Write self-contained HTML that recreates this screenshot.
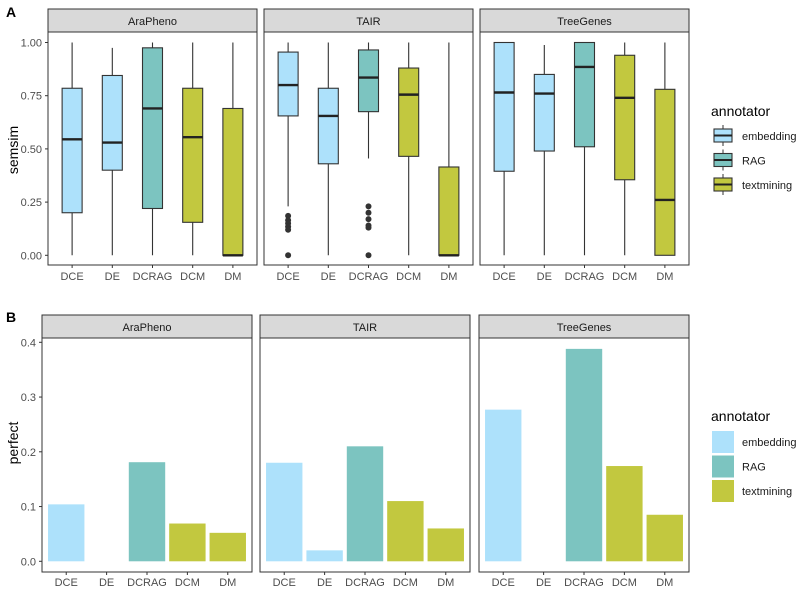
<!DOCTYPE html>
<html><head><meta charset="utf-8"><style>
body{margin:0;background:#fff;}
svg{display:block;font-family:"Liberation Sans",Arial,sans-serif;}
</style></head><body>
<svg id="fig" width="800" height="589" viewBox="0 0 800 589"></svg>
<script>
const categories = ["DCE","DE","DCRAG","DCM","DM"];
const annotatorOf = ["embedding","embedding","RAG","textmining","textmining"];
const sources = ["AraPheno","TAIR","TreeGenes"];
// boxplot stats per source: [lowerWhisker, q1, median, q3, upperWhisker]
const boxAraPheno = [[0,0.20,0.545,0.785,1.0],[0,0.40,0.53,0.845,0.975],[0,0.22,0.69,0.975,1.0],[0,0.155,0.555,0.785,1.0],[0,0,0,0.69,1.0]];
const boxTAIR = [[0.23,0.655,0.80,0.955,1.0],[0,0.43,0.655,0.785,1.0],[0.455,0.675,0.835,0.965,1.0],[0,0.465,0.755,0.88,1.0],[0,0,0,0.415,1.0]];
const boxTreeGenes = [[0,0.395,0.765,1.0,1.0],[0,0.49,0.76,0.85,0.988],[0,0.51,0.885,1.0,1.0],[0,0.355,0.74,0.94,1.0],[0,0,0.26,0.78,1.0]];
const outliersTAIR_DCE = [0.185,0.165,0.15,0.135,0.12,0.0];
const outliersTAIR_DCRAG = [0.23,0.2,0.17,0.14,0.13,0.0];
const perfectAraPheno = [0.104,0,0.181,0.069,0.052];
const perfectTAIR = [0.18,0.02,0.21,0.11,0.06];
const perfectTreeGenes = [0.277,0,0.388,0.174,0.085];
const semsimTicks = ["0.00","0.25","0.50","0.75","1.00"];
const perfectTicks = ["0.0","0.1","0.2","0.3","0.4"];
const legendLabels = ["embedding","RAG","textmining"];

const fill = {embedding:"#ADE1FB",RAG:"#7CC4C0",textmining:"#C2C83F"};
const NS="http://www.w3.org/2000/svg";
const svg=document.getElementById('fig');
function mk(tag,attrs,parent,text){const e=document.createElementNS(NS,tag);for(const k in attrs)e.setAttribute(k,attrs[k]);if(text!==undefined)e.textContent=text;(parent||svg).appendChild(e);return e;}

// ---------- Panel A ----------
const topPanels=[48,264,480], pw=209;
const aTop=32,aBot=265;
const yA=v=>255.3-v*212.8;
const boxes=[boxAraPheno,boxTAIR,boxTreeGenes];
const xCat=(left,i)=>left+pw*((i+1)-0.4)/5.2;

let t=mk('text',{x:6,y:17,'font-size':14,'font-weight':'bold',fill:'#000'},svg,'A');

t=mk('text',{x:0,y:0,'font-size':14,fill:'#000','text-anchor':'middle',transform:'translate(18,150) rotate(-90)'},svg,'semsim');


semsimTicks.forEach(s=>{const v=parseFloat(s);const y=yA(v);
  let tx=mk('text',{x:42,y:y+4,'font-size':11,fill:'#4D4D4D','text-anchor':'end'},svg,s);
  
  mk('line',{x1:45,x2:48,y1:y,y2:y,stroke:'#333','stroke-width':1});
});

sources.forEach((src,p)=>{
  const L=topPanels[p];
  const g=mk('g',{});
  
  let s=mk('rect',{x:L,y:9,width:pw,height:23,fill:'#D9D9D9',stroke:'#333','stroke-width':1},g);
  
  let st=mk('text',{x:L+pw/2,y:25,'font-size':11,fill:'#1A1A1A','text-anchor':'middle'},g,src);
  
  mk('rect',{x:L,y:aTop,width:pw,height:aBot-aTop,fill:'#fff',stroke:'#333','stroke-width':1},g);
  boxes[p].forEach((b,i)=>{
    const cx=xCat(L,i), w=20;
    const bg=mk('g',{},g);
    
    mk('line',{x1:cx,x2:cx,y1:yA(b[0]),y2:yA(b[4]),stroke:'#333','stroke-width':1.1},bg);
    mk('rect',{x:cx-w/2,y:yA(b[3]),width:w,height:Math.max(yA(b[1])-yA(b[3]),0),fill:fill[annotatorOf[i]],stroke:'#333','stroke-width':1.1},bg);
    mk('line',{x1:cx-w/2,x2:cx+w/2,y1:yA(b[2]),y2:yA(b[2]),stroke:'#222','stroke-width':2.4},bg);
    mk('line',{x1:cx,x2:cx,y1:aBot,y2:aBot+3,stroke:'#333'},g);
    let tl=mk('text',{x:cx,y:aBot+15,'font-size':11,fill:'#4D4D4D','text-anchor':'middle'},g,categories[i]);
    
  });
  if(src==='TAIR'){
    [[0,outliersTAIR_DCE],[2,outliersTAIR_DCRAG]].forEach(([i,arr])=>arr.forEach(v=>{
      const c=mk('circle',{cx:xCat(L,i),cy:yA(v),r:3,fill:'#333'},g);
      
    }));
  }
});

// legend A
t=mk('text',{x:711,y:116,'font-size':14,fill:'#000'},svg,'annotator');

legendLabels.forEach((lab,k)=>{
  const y0=129+k*24.5;
  const g=mk('g',{});
  
  mk('line',{x1:723,x2:723,y1:y0-4,y2:y0+17,stroke:'#333'},g);
  mk('rect',{x:714,y:y0,width:18,height:13,fill:fill[lab],stroke:'#333','stroke-width':1.1},g);
  mk('line',{x1:714,x2:732,y1:y0+6.5,y2:y0+6.5,stroke:'#222','stroke-width':2},g);
  mk('text',{x:742,y:y0+11,'font-size':11,fill:'#1A1A1A'},g,lab);
});

// ---------- Panel B ----------
const botPanels=[42,260,479], pw2=210;
const bTop=338,bBot=572;
const yB=v=>561.3-v*547.5;
const perf=[perfectAraPheno,perfectTAIR,perfectTreeGenes];
const xCatB=(left,i)=>left+pw2*((i+1)-0.4)/5.2;

t=mk('text',{x:6,y:322,'font-size':14,'font-weight':'bold',fill:'#000'},svg,'B');

t=mk('text',{x:0,y:0,'font-size':14,fill:'#000','text-anchor':'middle',transform:'translate(18,443) rotate(-90)'},svg,'perfect');

perfectTicks.forEach(s=>{const v=parseFloat(s);const y=yB(v);
  let tx=mk('text',{x:36,y:y+4,'font-size':11,fill:'#4D4D4D','text-anchor':'end'},svg,s);
  
  mk('line',{x1:39,x2:42,y1:y,y2:y,stroke:'#333'});
});
sources.forEach((src,p)=>{
  const L=botPanels[p];
  const g=mk('g',{});
  
  let s=mk('rect',{x:L,y:315,width:pw2,height:23,fill:'#D9D9D9',stroke:'#333','stroke-width':1},g);
  
  let st=mk('text',{x:L+pw2/2,y:331,'font-size':11,fill:'#1A1A1A','text-anchor':'middle'},g,src);
  
  mk('rect',{x:L,y:bTop,width:pw2,height:bBot-bTop,fill:'#fff',stroke:'#333','stroke-width':1},g);
  perf[p].forEach((v,i)=>{
    const cx=xCatB(L,i), w=36.4;
    if(v>0){
      const r=mk('rect',{x:cx-w/2,y:yB(v),width:w,height:yB(0)-yB(v),fill:fill[annotatorOf[i]]},g);
      
    }
    mk('line',{x1:cx,x2:cx,y1:bBot,y2:bBot+3,stroke:'#333'},g);
    let tl=mk('text',{x:cx,y:bBot+14,'font-size':11,fill:'#4D4D4D','text-anchor':'middle'},g,categories[i]);
    
  });
});
t=mk('text',{x:711,y:421,'font-size':14,fill:'#000'},svg,'annotator');

legendLabels.forEach((lab,k)=>{
  const y0=431+k*24.5;
  const g=mk('g',{});
  
  mk('rect',{x:712,y:y0,width:22,height:22,fill:fill[lab]},g);
  mk('text',{x:742,y:y0+15,'font-size':11,fill:'#1A1A1A'},g,lab);
});
</script>
</body></html>
